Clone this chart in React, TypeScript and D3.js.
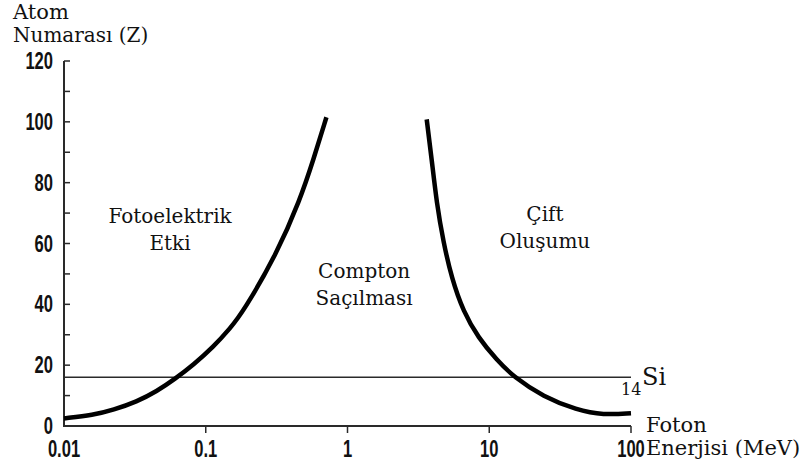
import React from "react";
import * as d3 from "d3";

const W = 807;
const H = 468;

// Photon energy (MeV) vs atomic number Z, boundary curves
const photoEnergy = [0.01, 0.0161, 0.0223, 0.0326, 0.0451, 0.0607, 0.0817, 0.113, 0.148, 0.184, 0.316, 0.462, 0.574, 0.71];
const photoZ = [2.5, 3.6, 5.3, 8.0, 11.4, 15.5, 20.1, 26.0, 32.0, 37.6, 56.5, 74.3, 87.5, 101.5];

const pairEnergy = [3.62, 3.93, 4.26, 4.74, 5.43, 6.56, 8.37, 11.3, 14.8, 24.1, 41.4, 63.8, 100];
const pairZ = [100.8, 87.5, 73.2, 60.6, 48.6, 37.6, 29.0, 21.7, 16.2, 9.6, 5.3, 3.6, 4.2];

const xTicks = [0.01, 0.1, 1, 10, 100];
const xTickLabels = ["0.01", "0.1", "1", "10", "100"];
const yTicks = [0, 20, 40, 60, 80, 100, 120];
const yMinorTicks = [10, 30, 50, 70, 90, 110];

const siLineZ = 16;

const regionLabels = [
  { lines: ["Fotoelektrik", "Etki"], e: 0.056, z: 66.8 },
  { lines: ["Compton", "Saçılması"], e: 1.31, z: 48.6 },
  { lines: ["Çift", "Oluşumu"], e: 24.7, z: 67.4 },
];

const serif = "'DejaVu Serif', serif";
const sans = "'Liberation Sans', Arial, sans-serif";

export default function App() {
  const x = d3.scaleLog().domain([0.01, 100]).range([64, 631]);
  const y = d3.scaleLinear().domain([0, 120]).range([426, 61]);

  const line = d3
    .line<[number, number]>()
    .x((d) => x(d[0]))
    .y((d) => y(d[1]))
    .curve(d3.curveBasis);

  const photo = photoEnergy.map((e, i) => [e, photoZ[i]] as [number, number]);
  const pair = pairEnergy.map((e, i) => [e, pairZ[i]] as [number, number]);

  const x0 = x(0.01);
  const x1 = x(100);
  const y0 = y(0);
  const axisColor = "#2a2a2a";
  const sx = 0.72;

  return (
    <svg
      width={W}
      height={H}
      style={{ position: "absolute", left: 0, top: 0, display: "block", background: "#fff" }}
    >
      {/* Y axis */}
      <line x1={x0} x2={x0} y1={y(120)} y2={y0 + 1} stroke={axisColor} strokeWidth={2} />
      {yTicks.concat(yMinorTicks).map((t) => (
        <line key={"yt" + t} x1={x0} x2={x0 + 6} y1={y(t)} y2={y(t)} stroke={axisColor} strokeWidth={1.5} />
      ))}
      {yTicks.map((t) => (
        <text
          key={"yl" + t}
          transform={`translate(53,${y(t) + 8}) scale(${sx},1)`}
          textAnchor="end"
          fontFamily={sans}
          fontWeight="bold"
          fontSize={23}
          fill="#111"
        >
          {t}
        </text>
      ))}

      {/* X axis */}
      <line x1={x0 - 1} x2={x1} y1={y0} y2={y0} stroke={axisColor} strokeWidth={2} />
      {xTicks.slice(1).map((t) => (
        <line key={"xt" + t} x1={x(t)} x2={x(t)} y1={y0} y2={y0 + 7} stroke={axisColor} strokeWidth={1.5} />
      ))}
      {xTicks.map((t, i) => (
        <text
          key={"xl" + t}
          transform={`translate(${x(t)},457) scale(${sx},1)`}
          textAnchor="middle"
          fontFamily={sans}
          fontWeight="bold"
          fontSize={23}
          fill="#111"
        >
          {xTickLabels[i]}
        </text>
      ))}

      {/* Si line */}
      <line x1={x0} x2={x1} y1={y(siLineZ)} y2={y(siLineZ)} stroke={axisColor} strokeWidth={1.5} />
      <text x={621} y={395} fontFamily={serif} fontSize={16} fill="#111">14</text>
      <text x={642} y={385} fontFamily={serif} fontSize={24} fill="#111">Si</text>

      {/* Curves */}
      <path d={line(photo) || ""} fill="none" stroke="#000" strokeWidth={4.5} />
      <path d={line(pair) || ""} fill="none" stroke="#000" strokeWidth={4.5} />

      {/* Region labels */}
      {regionLabels.map((r) => (
        <text
          key={r.lines[0]}
          x={x(r.e)}
          y={y(r.z)}
          textAnchor="middle"
          fontFamily={serif}
          fontSize={20}
          fill="#111"
        >
          {r.lines.map((l, i) => (
            <tspan key={l} x={x(r.e)} dy={i === 0 ? 0 : 27}>
              {l}
            </tspan>
          ))}
        </text>
      ))}

      {/* Axis titles */}
      <text x={13} y={19} fontFamily={serif} fontSize={21} fill="#111">Atom</text>
      <text x={13} y={42} fontFamily={serif} fontSize={20} fill="#111">Numarası (Z)</text>
      <text x={646} y={432} fontFamily={serif} fontSize={21} fill="#111">Foton</text>
      <text x={646} y={455} fontFamily={serif} fontSize={21} fill="#111">Enerjisi (MeV)</text>
    </svg>
  );
}
